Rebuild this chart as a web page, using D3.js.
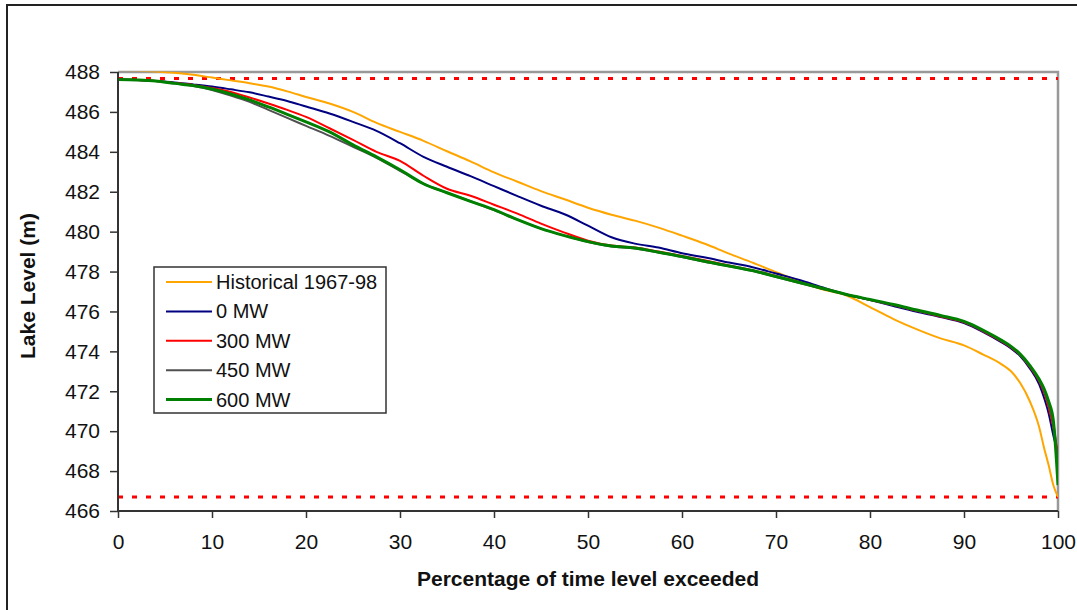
<!DOCTYPE html>
<html>
<head>
<meta charset="utf-8">
<script src="https://cdn.jsdelivr.net/npm/d3@7"></script>
<style>
  html, body { margin: 0; padding: 0; background: #fff; }
  svg { display: block; font-family: Arial, "Liberation Sans", sans-serif; }
</style>
</head>
<body>
<svg id="chart" width="1077" height="610"></svg>
<script>
// Percentage of time a lake level is exceeded (x positions shared by all series)
const pct = [0, 2, 4, 6, 8, 10, 12, 14, 16, 18, 20, 22.5, 25, 27.5, 30, 32.5, 35, 37.5, 40, 42.5,
             45, 47.5, 50, 52.5, 55, 57.5, 60, 62.5, 65, 67.5, 70, 72.5, 75, 77.5, 80, 82.5, 85, 87.5,
             90, 92, 94, 95, 96, 97, 98, 98.5, 99, 99.5, 100];

// Lake level (m) duration curves
const historical = [488.1, 488.08, 488.03, 487.96, 487.86, 487.72, 487.58, 487.44, 487.27, 487.03, 486.75,
                    486.42, 486.0, 485.45, 485.0, 484.55, 484.03, 483.52, 482.97, 482.5,
                    482.03, 481.62, 481.2, 480.85, 480.55, 480.2, 479.8, 479.38, 478.9, 478.45,
                    477.97, 477.5, 477.1, 476.8, 476.22, 475.62, 475.1, 474.65,
                    474.3, 473.85, 473.35, 473.0, 472.4, 471.5, 470.2, 469.2, 468.3, 467.3, 466.7];
const mw0 = [487.62, 487.6, 487.55, 487.48, 487.38, 487.27, 487.13, 486.98, 486.77, 486.55, 486.27,
             485.92, 485.5, 485.05, 484.43, 483.75, 483.25, 482.78, 482.28, 481.78,
             481.3, 480.87, 480.3, 479.72, 479.4, 479.2, 478.92, 478.7, 478.45, 478.22,
             477.9, 477.58, 477.2, 476.85, 476.57, 476.27, 475.98, 475.72,
             475.42, 474.98, 474.45, 474.15, 473.75, 473.15, 472.35, 471.7, 470.9, 469.8, 468.9];
const mw300 = [487.62, 487.6, 487.55, 487.45, 487.35, 487.2, 487.0, 486.72, 486.42, 486.1, 485.75,
               485.18, 484.6, 484.0, 483.55, 482.8, 482.15, 481.8, 481.35, 480.9,
               480.4, 479.95, 479.55, 479.3, 479.2, 479.0, 478.78, 478.55, 478.3, 478.07,
               477.78, 477.47, 477.15, 476.85, 476.58, 476.32, 476.03, 475.75,
               475.45, 475.02, 474.5, 474.2, 473.8, 473.22, 472.5, 471.95, 471.2, 470.2, 468.8];
const mw450 = [487.62, 487.6, 487.55, 487.43, 487.3, 487.1, 486.82, 486.5, 486.1, 485.7, 485.3,
               484.8, 484.25, 483.7, 483.05, 482.4, 481.95, 481.52, 481.08, 480.6,
               480.15, 479.8, 479.48, 479.26, 479.15, 478.95, 478.73, 478.48, 478.26, 478.03,
               477.73, 477.43, 477.13, 476.84, 476.58, 476.33, 476.05, 475.78,
               475.48, 475.04, 474.53, 474.22, 473.82, 473.26, 472.55, 472.05, 471.35, 470.4, 468.6];
const mw600 = [487.62, 487.6, 487.55, 487.43, 487.32, 487.15, 486.9, 486.6, 486.25, 485.88, 485.5,
               485.0, 484.35, 483.75, 483.1, 482.4, 481.95, 481.52, 481.1, 480.6,
               480.15, 479.8, 479.5, 479.28, 479.18, 478.97, 478.75, 478.5, 478.28, 478.05,
               477.75, 477.45, 477.15, 476.85, 476.6, 476.35, 476.07, 475.8,
               475.5, 475.07, 474.55, 474.25, 473.85, 473.3, 472.6, 472.15, 471.5, 470.55, 467.3];

// Operating limits (m)
const limits = [487.68, 466.7];

const seriesNames = ["Historical 1967-98", "0 MW", "300 MW", "450 MW", "600 MW"];
const seriesValues = [historical, mw0, mw300, mw450, mw600];
const seriesColors = ["#FFA500", "#000080", "#FF0000", "#505050", "#008000"];
const seriesWidths = [2, 2, 2, 2, 3];

const xTicks = d3.range(0, 101, 10);
const yTicks = d3.range(466, 489, 2);

const svg = d3.select("#chart");
const margin = { left: 118, top: 72, right: 1058, bottom: 511 };

const x = d3.scaleLinear().domain([0, 100]).range([margin.left, margin.right]);
const y = d3.scaleLinear().domain([466, 488]).range([margin.bottom, margin.top]);

// outer frame of the chart object
svg.append("rect")
  .attr("x", 7).attr("y", 5)
  .attr("width", 1100).attr("height", 640)
  .attr("fill", "#fff")
  .attr("stroke", "#222").attr("stroke-width", 2);

// plot area border (top / right)
svg.append("path")
  .attr("d", `M${margin.left},${margin.top}H${margin.right}V${margin.bottom}`)
  .attr("fill", "none")
  .attr("stroke", "#999").attr("stroke-width", 2.5);

svg.append("clipPath").attr("id", "plotClip")
  .append("rect")
  .attr("x", margin.left).attr("y", margin.top - 0.5)
  .attr("width", margin.right - margin.left).attr("height", margin.bottom - margin.top + 1);

// limit lines
svg.append("g").selectAll("line")
  .data(limits)
  .join("line")
  .attr("x1", x(0)).attr("x2", x(100))
  .attr("y1", d => y(d)).attr("y2", d => y(d))
  .attr("stroke", "#FF0000")
  .attr("stroke-width", 3)
  .attr("stroke-dasharray", "5,9");

// duration curves
const line = d3.line()
  .x((d, i) => x(pct[i]))
  .y(d => y(d))
  .curve(d3.curveMonotoneX);

svg.append("g").attr("clip-path", "url(#plotClip)")
  .selectAll("path")
  .data(seriesValues)
  .join("path")
  .attr("d", d => line(d))
  .attr("fill", "none")
  .attr("stroke", (d, i) => seriesColors[i])
  .attr("stroke-width", (d, i) => seriesWidths[i])
  .attr("stroke-linejoin", "round");

// axes
const yAxis = svg.append("g")
  .attr("transform", `translate(${margin.left},0)`)
  .call(d3.axisLeft(y).tickValues(yTicks).tickFormat(d3.format("d")).tickSize(8).tickPadding(10));
const xAxis = svg.append("g")
  .attr("transform", `translate(0,${margin.bottom})`)
  .call(d3.axisBottom(x).tickValues(xTicks).tickFormat(d3.format("d")).tickSize(7).tickPadding(16));

[yAxis, xAxis].forEach(g => {
  g.select(".domain").attr("stroke", "#333").attr("stroke-width", 2);
  g.selectAll(".tick line").attr("stroke", "#333").attr("stroke-width", 1.5);
  g.selectAll(".tick text").attr("fill", "#111")
    .style("font-size", "21px").style("font-family", "Arial, 'Liberation Sans', sans-serif");
});
yAxis.select(".domain").attr("d", `M0,${margin.top}V${margin.bottom}`);
xAxis.select(".domain").attr("d", `M${margin.left},0H${margin.right}`);

// axis titles
svg.append("text")
  .attr("x", (margin.left + margin.right) / 2).attr("y", 586)
  .attr("text-anchor", "middle")
  .style("font-size", "21px").style("font-weight", "bold")
  .attr("fill", "#111")
  .text("Percentage of time level exceeded");

svg.append("text")
  .attr("transform", "translate(35,286) rotate(-90)")
  .attr("text-anchor", "middle")
  .style("font-size", "21px").style("font-weight", "bold")
  .attr("fill", "#111")
  .text("Lake Level (m)");

// legend
const legend = svg.append("g").attr("transform", "translate(154,267)");
legend.append("rect")
  .attr("width", 232).attr("height", 146)
  .attr("fill", "#fff")
  .attr("stroke", "#333").attr("stroke-width", 1.5);

const rows = legend.selectAll("g.row")
  .data(seriesNames)
  .join("g")
  .attr("class", "row")
  .attr("transform", (d, i) => `translate(0,${15 + i * 29.4})`);
rows.append("line")
  .attr("x1", 12).attr("x2", 58)
  .attr("stroke", (d, i) => seriesColors[i])
  .attr("stroke-width", (d, i) => seriesWidths[i]);
rows.append("text")
  .attr("x", 62).attr("dy", "0.35em")
  .style("font-size", "20px")
  .attr("fill", "#111")
  .text(d => d);
</script>
</body>
</html>
